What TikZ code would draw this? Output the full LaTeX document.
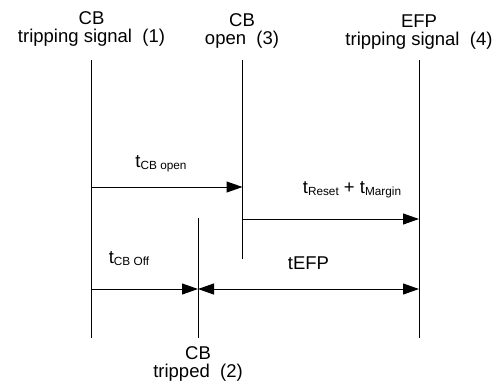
\documentclass[tikz,border=0pt]{standalone}
\usepackage{fontspec}
\setmainfont{Liberation Sans}
\usetikzlibrary{arrows.meta}
\newcommand\tsub[1]{t\raisebox{-1pt}{\fontsize{5.9}{6}\selectfont #1}}
\begin{document}
\begin{tikzpicture}[x=0.5pt,y=-0.5pt,
		every node/.style={font=\fontsize{9.25}{9}\selectfont, inner sep=0pt},
		tline/.style={line width=0.5pt},
		dur/.style={line width=0.5pt, -{Triangle[length=8pt,width=5.5pt]}},
		lbl/.style={align=center}]
		\useasboundingbox (0,0) rectangle (498,387);
		% time lines
		\coordinate (l1t) at (91.5,60);  \coordinate (l1b) at (91.5,338);
		\coordinate (l2t) at (198,218);  \coordinate (l2b) at (198,338);
		\coordinate (l3t) at (242.5,60); \coordinate (l3b) at (242.5,259);
		\coordinate (l4t) at (419,60);   \coordinate (l4b) at (419,338);
		\draw[tline] (l1t) -- (l1b);
		\draw[tline] (l2t) -- (l2b);
		\draw[tline] (l3t) -- (l3b);
		\draw[tline] (l4t) -- (l4b);
		% events
		\node[lbl] (sig1) at (91.5,28.6) {CB\\tripping signal\ \ (1)};
		\node[lbl] (open3) at (242,31) {CB\\open\ \ (3)};
		\node[lbl] (sig4) at (419,31.6) {EFP\\tripping signal\ \ (4)};
		\node[lbl] (trip2) at (198,364.3) {CB\\tripped\ \ (2)};
		% durations
		\coordinate (a1s) at (91.5,187);  \coordinate (a1e) at (242.5,187);
		\coordinate (a2s) at (242.5,219); \coordinate (a2e) at (419,219);
		\coordinate (a3s) at (91.5,289);  \coordinate (a3e) at (198,289);
		\coordinate (a4s) at (198,289);   \coordinate (a4e) at (419,289);
		\draw[dur, -{Triangle[length=0.01pt,width=0.01pt,line width=0pt,sep=2pt] Triangle[length=8pt,width=5.5pt,sep=0pt]}] (a1s) -- (a1e);
		\draw[dur] (a2s) -- (a2e);
		\draw[dur] (a3s) -- (a3e);
		\draw[dur, {Triangle[length=8pt,width=5.5pt]}-{Triangle[length=0.01pt,width=0.01pt,line width=0pt,sep=3.5pt] Triangle[length=8pt,width=5.5pt,sep=0pt]}] (a4s) -- (a4e);
		\node[anchor=base] (tcbopen) at (161,167) {\tsub{CB open}};
		\node[anchor=base] (treset) at (352,193) {\tsub{Reset} + \tsub{Margin}};
		\node[anchor=base] (tcboff) at (129,263) {\tsub{CB Off}};
		\node[anchor=base] (tefp) at (308.5,269.5) {tEFP};
	\end{tikzpicture}
\end{document}
